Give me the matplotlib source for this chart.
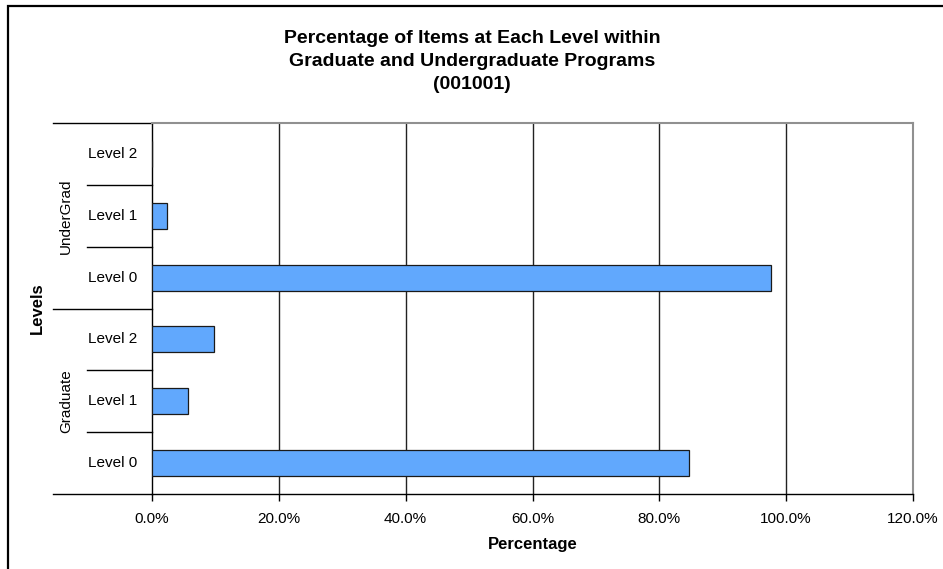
import matplotlib
matplotlib.use("Agg")
import matplotlib.pyplot as plt
from matplotlib.ticker import FuncFormatter
from matplotlib.patches import Rectangle

plt.rcParams['font.family'] = ['Liberation Sans', 'DejaVu Sans']

# data (bottom to top)
groups = ['Graduate', 'UnderGrad']
levels = ['Level 0', 'Level 1', 'Level 2']
graduate = [84.6, 5.7, 9.7]
undergrad = [97.6, 2.4, 0.0]
xticks = [0, 20, 40, 60, 80, 100, 120]

values = graduate + undergrad
labels = levels + levels
ypos = list(range(len(values)))

W, H = 943, 569
fig = plt.figure(figsize=(W / 100, H / 100), dpi=100)

# outer chart frame (Excel style)
fig.patches.append(Rectangle((8 / W, -0.05), 1.1, (H - 6) / H + 0.05,
                             transform=fig.transFigure, fill=False,
                             edgecolor='black', linewidth=1.6))

left, right, top, bottom = 152, 913, 123, 494
ax = fig.add_axes([left / W, 1 - bottom / H, (right - left) / W, (bottom - top) / H])

ax.barh(ypos, values, height=0.42, color='#61a8fd', edgecolor='#1a1a1a', linewidth=0.9, zorder=3)

ax.set_xlim(0, 120)
ax.set_ylim(-0.5, 5.5)
ax.set_xticks(xticks)
ax.xaxis.set_major_formatter(FuncFormatter(lambda v, p: '%.1f%%' % v))
ax.tick_params(axis='x', length=5, width=1, direction='out', labelsize=11, pad=8)
ax.set_yticks([])
for x in xticks[1:]:
    ax.axvline(x, color='#222222', linewidth=1, zorder=1)

for s in ['top', 'right']:
    ax.spines[s].set_color('#909090')
    ax.spines[s].set_linewidth(1.5)
ax.spines['left'].set_color('black')
ax.spines['bottom'].set_color('black')
ax.spines['bottom'].set_linewidth(1)
ax.spines['left'].set_linewidth(1)

# category axis with grouped labels
tr = ax.get_yaxis_transform()
axw = right - left
for y in [0.5, 1.5, 3.5, 4.5]:
    ax.plot([(87 - left) / axw, 0], [y, y], color='black', linewidth=1, transform=tr, clip_on=False)
for y in [-0.5, 2.5, 5.5]:
    ax.plot([(53 - left) / axw, 0], [y, y], color='black', linewidth=1, transform=tr, clip_on=False)
for y, lab in zip(ypos, labels):
    ax.text((113 - left) / axw, y, lab, transform=tr, ha='center', va='center', fontsize=11)
for i, g in enumerate(groups):
    ax.text((66 - left) / axw, 1 + 3 * i, g, transform=tr, ha='center', va='center',
            rotation=90, fontsize=11)

fig.text(37 / W, 1 - 308 / H, 'Levels', rotation=90, ha='center', va='center',
         fontsize=12, fontweight='bold')
fig.text((left + right) / 2 / W, 1 - 545 / H, 'Percentage', ha='center', va='center',
         fontsize=12, fontweight='bold')

title = ['Percentage of Items at Each Level within',
         'Graduate and Undergraduate Programs',
         '(001001)']
for i, t in enumerate(title):
    fig.text(472 / W, 1 - (43 + 23 * i) / H, t, ha='center', va='baseline',
             fontsize=14, fontweight='bold')

fig.savefig('out.png', dpi=100)
